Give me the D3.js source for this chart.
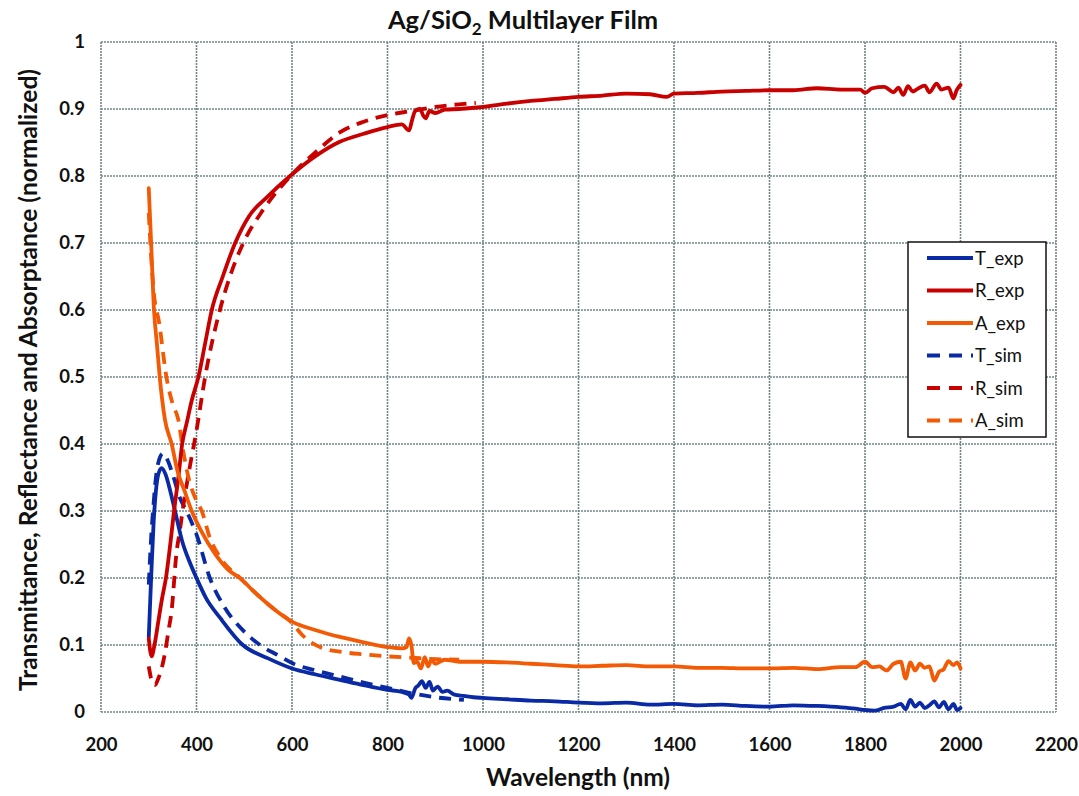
<!DOCTYPE html>
<html><head><meta charset="utf-8">
<script src="https://cdn.jsdelivr.net/npm/d3@7"></script>
<style>
html,body{margin:0;padding:0;background:#fff;}
text{font-family:Lato,"Open Sans",sans-serif;}
</style></head>
<body><svg id="c" width="1079" height="796"></svg>
<script>
const title = "Ag/SiO";
const xTicks = [200,400,600,800,1000,1200,1400,1600,1800,2000,2200];
const yTicks = [0,0.1,0.2,0.3,0.4,0.5,0.6,0.7,0.8,0.9,1];
const seriesNames = ["T_exp","R_exp","A_exp","T_sim","R_sim","A_sim"];
const seriesColors = ["#0a2aa5","#c80000","#f25a05","#0a2aa5","#c80000","#f25a05"];
const seriesDashed = [false,false,false,true,true,true];

const T_exp = [[300,0.112],[305,0.2],[310,0.28],[315,0.33],[320,0.355],[327,0.364],[335,0.355],[345,0.33],[355,0.3],[370,0.255],[385,0.225],[400,0.2],[420,0.17],[450,0.14],[497,0.1],[550,0.08],[600,0.065],[650,0.056],[700,0.048],[750,0.04],[800,0.033],[830,0.03],[845,0.026],[850,0.021],[858,0.035],[865,0.04],[872,0.046],[880,0.036],[888,0.045],[895,0.032],[905,0.038],[915,0.03],[925,0.032],[940,0.026],[960,0.024],[980,0.022],[1000,0.021],[1050,0.019],[1100,0.017],[1150,0.016],[1200,0.014],[1250,0.013],[1300,0.014],[1350,0.011],[1400,0.012],[1450,0.01],[1500,0.011],[1550,0.009],[1600,0.008],[1650,0.01],[1700,0.009],[1750,0.007],[1780,0.005],[1800,0.003],[1820,0.002],[1840,0.006],[1860,0.008],[1875,0.012],[1885,0.004],[1895,0.018],[1905,0.008],[1915,0.014],[1925,0.006],[1935,0.01],[1945,0.016],[1955,0.007],[1965,0.015],[1975,0.004],[1985,0.012],[1993,0.003],[2000,0.006]];
const R_exp = [[300,0.11],[306,0.083],[312,0.1],[320,0.135],[328,0.17],[336,0.2],[345,0.25],[353,0.3],[362,0.35],[370,0.4],[380,0.433],[390,0.465],[404,0.5],[418,0.55],[432,0.6],[455,0.65],[481,0.7],[510,0.74],[550,0.77],[596,0.8],[650,0.83],[700,0.851],[750,0.863],[800,0.873],[830,0.877],[845,0.868],[852,0.885],[858,0.897],[868,0.9],[875,0.89],[880,0.886],[888,0.897],[900,0.894],[920,0.899],[950,0.9],[1000,0.903],[1050,0.908],[1100,0.912],[1150,0.915],[1200,0.918],[1250,0.92],[1300,0.923],[1350,0.922],[1385,0.918],[1400,0.923],[1450,0.924],[1500,0.926],[1550,0.927],[1600,0.928],[1650,0.928],[1700,0.931],[1750,0.929],[1790,0.929],[1800,0.924],[1815,0.931],[1840,0.933],[1860,0.925],[1870,0.932],[1880,0.921],[1890,0.934],[1900,0.926],[1910,0.93],[1925,0.935],[1935,0.925],[1950,0.938],[1960,0.929],[1975,0.932],[1985,0.916],[1992,0.928],[2000,0.936]];
const A_exp = [[300,0.782],[305,0.7],[311,0.6],[317,0.55],[323,0.5],[334,0.436],[348,0.4],[360,0.36],[375,0.33],[390,0.3],[410,0.27],[440,0.235],[470,0.21],[491,0.2],[520,0.18],[560,0.155],[600,0.135],[650,0.122],[700,0.112],[750,0.104],[800,0.097],[830,0.095],[840,0.097],[845,0.11],[850,0.1],[855,0.073],[862,0.075],[870,0.065],[878,0.082],[885,0.068],[892,0.078],[900,0.072],[920,0.078],[950,0.075],[1000,0.075],[1050,0.074],[1100,0.072],[1150,0.07],[1200,0.068],[1250,0.069],[1300,0.07],[1350,0.068],[1400,0.068],[1450,0.066],[1500,0.066],[1550,0.065],[1600,0.065],[1650,0.066],[1700,0.064],[1750,0.067],[1780,0.067],[1800,0.075],[1815,0.067],[1830,0.068],[1845,0.062],[1860,0.072],[1875,0.075],[1885,0.05],[1895,0.074],[1905,0.062],[1915,0.072],[1925,0.066],[1935,0.068],[1945,0.047],[1955,0.06],[1965,0.064],[1975,0.076],[1985,0.07],[1993,0.074],[2000,0.065]];
const T_sim = [[300,0.19],[305,0.26],[310,0.31],[315,0.35],[320,0.372],[330,0.386],[340,0.375],[350,0.355],[365,0.32],[379,0.3],[400,0.265],[428,0.2],[460,0.155],[500,0.12],[533,0.1],[570,0.085],[600,0.073],[650,0.062],[700,0.053],[750,0.044],[800,0.036],[850,0.028],[900,0.022],[960,0.018]];
const R_sim = [[300,0.068],[307,0.045],[313,0.04],[320,0.05],[327,0.065],[334,0.088],[341,0.12],[348,0.152],[358,0.237],[365,0.27],[372,0.306],[386,0.366],[400,0.42],[418,0.5],[449,0.6],[470,0.65],[498,0.7],[540,0.75],[600,0.802],[650,0.836],[700,0.865],[750,0.881],[800,0.891],[850,0.897],[900,0.903],[950,0.907],[985,0.909]];
const A_sim = [[300,0.745],[305,0.68],[310,0.63],[322,0.58],[337,0.5],[350,0.46],[362,0.436],[372,0.39],[385,0.345],[400,0.315],[411,0.3],[428,0.26],[450,0.23],[491,0.2],[520,0.18],[560,0.155],[600,0.133],[620,0.116],[640,0.104],[670,0.094],[700,0.09],[750,0.086],[800,0.083],[850,0.081],[900,0.079],[950,0.078]];
const seriesData = [T_exp,R_exp,A_exp,T_sim,R_sim,A_sim];

const svg = d3.select("#c");
const L=101, R=1056, T=42, B=712;
const x = d3.scaleLinear().domain([200,2200]).range([L,R]);
const y = d3.scaleLinear().domain([0,1]).range([B,T]);
const gridC = "#718585";

// grid
const g = svg.append("g");
g.selectAll(".vx").data(xTicks).enter().append("line")
 .attr("x1",d=>x(d)).attr("x2",d=>x(d)).attr("y1",T).attr("y2",B)
 .attr("stroke",gridC).attr("stroke-width",1.6).attr("stroke-dasharray","2,1");
g.selectAll(".hy").data(yTicks).enter().append("line")
 .attr("y1",d=>y(d)).attr("y2",d=>y(d)).attr("x1",L).attr("x2",R)
 .attr("stroke",gridC).attr("stroke-width",1.6).attr("stroke-dasharray","2,1");

// axes labels via d3 axis
const xa = svg.append("g").attr("transform",`translate(0,${B})`)
 .call(d3.axisBottom(x).tickValues(xTicks).tickSize(0).tickPadding(26).tickFormat(d3.format("d")));
xa.select(".domain").remove();
xa.selectAll("text").attr("font-size",18.5).attr("font-weight","bold").attr("fill","#111").attr("font-family","Lato,sans-serif");
const ya = svg.append("g").attr("transform",`translate(${L},0)`)
 .call(d3.axisLeft(y).tickValues(yTicks).tickSize(0).tickPadding(16).tickFormat(d=>d===0?"0":d===1?"1":d3.format(".1f")(d)));
ya.select(".domain").remove();
ya.selectAll("text").attr("font-size",18.5).attr("font-weight","bold").attr("fill","#111").attr("font-family","Lato,sans-serif");

// lines
const line = d3.line().x(d=>x(d[0])).y(d=>y(d[1])).curve(d3.curveMonotoneX);
const order = [3,4,5,0,1,2];
order.forEach(i=>{
  svg.append("path").datum(seriesData[i]).attr("d",line)
   .attr("fill","none").attr("stroke",seriesColors[i]).attr("stroke-width",3.8)
   .attr("stroke-linejoin","round").attr("stroke-linecap",seriesDashed[i]?"butt":"round")
   .attr("stroke-dasharray",seriesDashed[i]?"12,8":null);
});

// titles
const tt = svg.append("text").attr("x",523).attr("y",29).attr("text-anchor","middle")
 .attr("font-size",25.5).attr("font-weight","bold").attr("fill","#111");
tt.append("tspan").text(title);
tt.append("tspan").text("2").attr("font-size",17).attr("dy",6);
tt.append("tspan").text(" Multilayer Film").attr("dy",-6);
svg.append("text").attr("x",578).attr("y",786).attr("text-anchor","middle")
 .attr("font-size",24.5).attr("font-weight","bold").attr("fill","#111").text("Wavelength (nm)");
svg.append("text").attr("transform","translate(37,380) rotate(-90)").attr("text-anchor","middle")
 .attr("font-size",24.5).attr("font-weight","bold").attr("fill","#111")
 .text("Transmittance, Reflectance and Absorptance (normalized)");

// legend
const lg = svg.append("g");
lg.append("rect").attr("x",908).attr("y",242).attr("width",138).attr("height",195)
 .attr("fill","#fff").attr("stroke","#111").attr("stroke-width",1.5);
seriesNames.forEach((n,i)=>{
  const yy = 258 + i*32.5;
  lg.append("line").attr("x1",927).attr("x2",973).attr("y1",yy).attr("y2",yy)
   .attr("stroke",seriesColors[i]).attr("stroke-width",3.8)
   .attr("stroke-dasharray",seriesDashed[i]?"13,9":null);
  lg.append("text").attr("x",975).attr("y",yy+6.5).attr("font-size",18.5).attr("fill","#111").text(n);
});
</script></body></html>
